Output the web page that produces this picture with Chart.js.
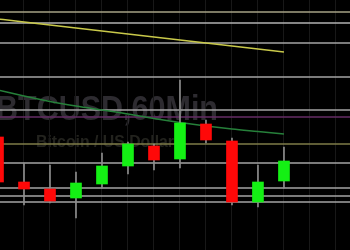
<!DOCTYPE html>
<html>
<head>
<meta charset="utf-8">
<script src="https://cdn.jsdelivr.net/npm/chart.js@4"></script>
<style>
  html, body { margin: 0; padding: 0; background: #000; }
  canvas { display: block; }
</style>
</head>
<body>
<canvas id="chart1" width="350" height="250"></canvas>
<script>
// BTCUSD 60 min candles (12 bars visible)
const hours  = [0, 1, 2, 3, 4, 5, 6, 7, 8, 9, 10, 11];
const opens  = [9413, 9368, 9361, 9352, 9366, 9384, 9404, 9391, 9426, 9409, 9348, 9369];
const closes = [9368, 9361, 9349, 9367, 9384, 9406, 9390, 9427, 9410, 9348, 9368, 9389];
const highs  = [9415, 9387, 9385, 9378, 9397, 9408, 9406, 9470, 9430, 9412, 9385, 9403];
const lows   = [9366, 9345, 9347, 9332, 9362, 9376, 9380, 9382, 9407, 9345, 9343, 9362];

// moving averages
const maSlow = [9531, 9528, 9525, 9522, 9519, 9516, 9513, 9510, 9507, 9504, 9501, 9498];
const maFast = [9460, 9454, 9448.5, 9444, 9440, 9436, 9431.5, 9427.5, 9424, 9421, 9418.5, 9416];

// horizontal levels
const levels      = [9538, 9527, 9507, 9473, 9440, 9433, 9406, 9387, 9362, 9354, 9348];
const levelColors = ['#a6a286', '#b2b2b2', '#a4a4a4', '#a4a4a4', '#a4a4a4', '#642c64',
                     '#7f7c48', '#a4a4a4', '#a4a4a4', '#a4a4a4', '#a4a4a4'];

const bull = '#14f014';
const bear = '#ff0808';

const backdrop = {
  id: 'backdrop',
  beforeDraw(chart) {
    const ctx = chart.ctx;
    ctx.save();
    ctx.fillStyle = '#000';
    ctx.fillRect(0, 0, chart.width, chart.height);

    // watermark
    function stretched(text, font, color, cx, base, w) {
      ctx.font = font;
      const m = ctx.measureText(text).width;
      ctx.save();
      ctx.translate(cx, base);
      ctx.scale(w / m, 1);
      ctx.fillStyle = color;
      ctx.textAlign = 'center';
      ctx.textBaseline = 'alphabetic';
      ctx.fillText(text, 0, 0);
      ctx.restore();
    }
    stretched('BTCUSD,60Min', 'bold 35px "Liberation Sans"', '#2d2b30', 107, 120, 222);
    stretched('Bitcoin / US Dollar', 'bold 16px "Liberation Sans"', '#23231e', 105, 147, 138);
    ctx.restore();
  },
  beforeDatasetsDraw(chart) {
    const ctx = chart.ctx;
    const y = chart.scales.y;
    const a = chart.chartArea;
    ctx.save();
    ctx.lineWidth = 1.5;
    levels.forEach((v, i) => {
      const py = y.getPixelForValue(v);
      ctx.strokeStyle = levelColors[i];
      ctx.beginPath();
      ctx.moveTo(a.left, py);
      ctx.lineTo(a.right, py);
      ctx.stroke();
    });
    ctx.restore();
  }
};

const data = {
  datasets: [
    {
      type: 'bar',
      label: 'body',
      data: hours.map((h, i) => ({ x: h, y: [opens[i], closes[i]] })),
      backgroundColor: hours.map((h, i) => closes[i] >= opens[i] ? bull : bear),
      barThickness: 11,
      grouped: false,
      order: 0
    },
    {
      type: 'bar',
      label: 'wick',
      data: hours.map((h, i) => ({ x: h, y: [lows[i], highs[i]] })),
      backgroundColor: '#8e8e8e',
      barThickness: 1,
      grouped: false,
      order: 1
    },
    {
      type: 'line',
      label: 'MA slow',
      data: hours.map((h, i) => ({ x: h, y: maSlow[i] })),
      borderColor: '#c9c94a',
      borderWidth: 1.5,
      pointRadius: 0,
      cubicInterpolationMode: 'monotone',
      order: 2
    },
    {
      type: 'line',
      label: 'MA fast',
      data: hours.map((h, i) => ({ x: h, y: maFast[i] })),
      borderColor: '#26803a',
      borderWidth: 1.5,
      pointRadius: 0,
      cubicInterpolationMode: 'monotone',
      order: 2
    }
  ]
};

const config = {
  type: 'bar',
  data: data,
  options: {
    responsive: false,
    devicePixelRatio: 1,
    animation: false,
    layout: { padding: 0 },
    plugins: { legend: { display: false }, tooltip: { enabled: false } },
    scales: {
      x: {
        type: 'linear',
        min: 0.077,
        max: 13.54,
        offset: false,
        ticks: { display: false, stepSize: 1, includeBounds: false, maxTicksLimit: 20 },
        grid: { color: '#181818', drawTicks: false, offset: false },
        border: { display: false }
      },
      y: {
        type: 'linear',
        min: 9300,
        max: 9550,
        ticks: { display: false },
        grid: { display: false, drawTicks: false },
        border: { display: false }
      }
    }
  },
  plugins: [backdrop]
};

const myChart = new Chart(document.getElementById('chart1'), config);
</script>
</body>
</html>
